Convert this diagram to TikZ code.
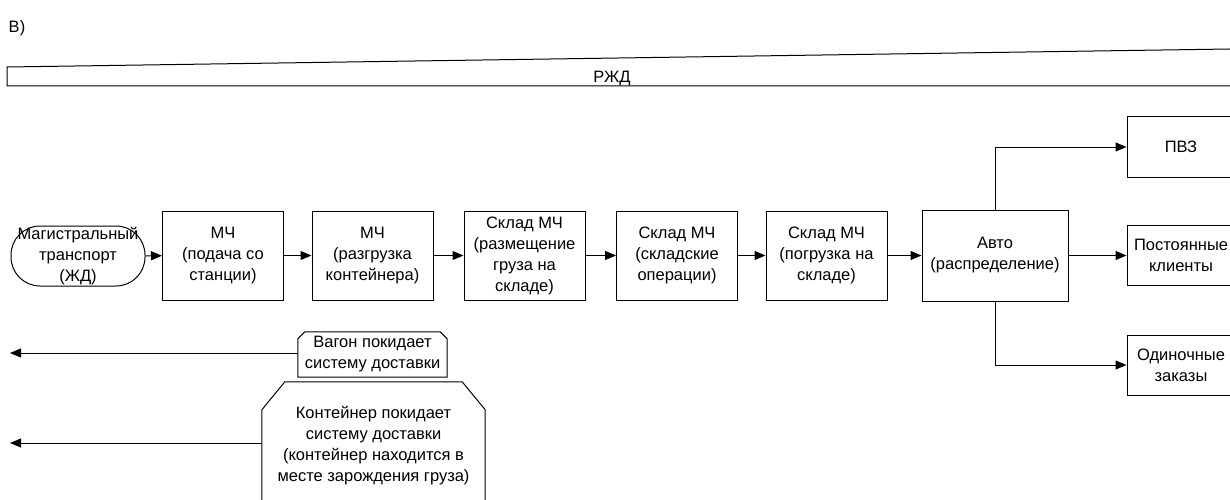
\documentclass[tikz,border=0pt]{standalone}
\usepackage{fontspec}
\setmainfont{Liberation Sans}
\usetikzlibrary{arrows.meta,calc}
\begin{document}
\begin{tikzpicture}[x=1pt,y=-1pt,
  every node/.style={font=\fontsize{16.5}{21}\selectfont, align=center, inner sep=0pt},
  ln/.style={line width=1pt},
  box/.style={draw, ln, minimum width=121pt, minimum height=89pt},
  stadium/.style={draw, ln, rounded corners=29pt, minimum width=134pt, minimum height=60pt},
  rbox/.style={draw, ln, minimum width=108pt, minimum height=60pt},
  arr/.style={ln, -{Triangle[length=11pt,width=9pt]}}]
\useasboundingbox (0,0) rectangle (1230,500);
\clip (0,0) rectangle (1230,500);

\node (lbl) at (17,28) {В)};

% top band
\draw[ln] (7,86) -- (7,67) -- (1240,48.85) -- (1240,86) -- cycle;
\node (rzd) at (612,78) {РЖД};

% main row
\node[stadium] (mag) at (78,256) {Магистральный\\транспорт\\(ЖД)};
\node[box] (b1) at (223,255.5) {МЧ\\(подача со\\станции)};
\node[box] (b2) at (372.5,255.5) {МЧ\\(разгрузка\\контейнера)};
\node[box] (b3) at (524.5,255.5) {Склад МЧ\\(размещение\\груза на\\складе)};
\node[box] (b4) at (677,255.5) {Склад МЧ\\(складские\\операции)};
\node[box] (b5) at (826.5,255.5) {Склад МЧ\\(погрузка на\\складе)};
\node[box, minimum width=146pt, minimum height=91pt] (auto) at (995,255.5) {Авто\\(распределение)};

\node[rbox] (pvz) at (1181,147) {ПВЗ};
\node[rbox] (post) at (1181,255.5) {Постоянные\\клиенты};
\node[rbox] (odin) at (1181,365) {Одиночные\\заказы};

\draw[arr] (mag) -- (b1);
\draw[arr] (b1) -- (b2);
\draw[arr] (b2) -- (b3);
\draw[arr] (b3) -- (b4);
\draw[arr] (b4) -- (b5);
\draw[arr] (b5) -- (auto);
\draw[arr] (auto.north) |- (pvz.west);
\draw[arr] (auto.east) -- (post.west);
\draw[arr] (auto.south) |- (odin.west);

% exits
\node[minimum width=149pt, minimum height=45pt] (vagon) at (372.5,354.5) {Вагон покидает\\систему доставки};
\draw[ln] (vagon.south west) -- ($(vagon.north west)+(0,7)$) -- ($(vagon.north west)+(7,0)$)
  -- ($(vagon.north east)+(-7,0)$) -- ($(vagon.north east)+(0,7)$) -- (vagon.south east) -- cycle;
\coordinate (e1) at (10,353);
\draw[arr] ([yshift=1.5pt]vagon.west) -- (e1);

\node[minimum width=223pt, minimum height=128pt] (cont) at (373.5,446)
  {Контейнер покидает\\систему доставки\\(контейнер находится в\\месте зарождения груза)};
\draw[ln] (cont.south west) -- ($(cont.north west)+(0,28)$) -- ($(cont.north west)+(23,0)$)
  -- ($(cont.north east)+(-23,0)$) -- ($(cont.north east)+(0,28)$) -- (cont.south east);
\coordinate (e2) at (10,443);
\draw[arr] ([yshift=3pt]cont.west) -- (e2);
\end{tikzpicture}
\end{document}
